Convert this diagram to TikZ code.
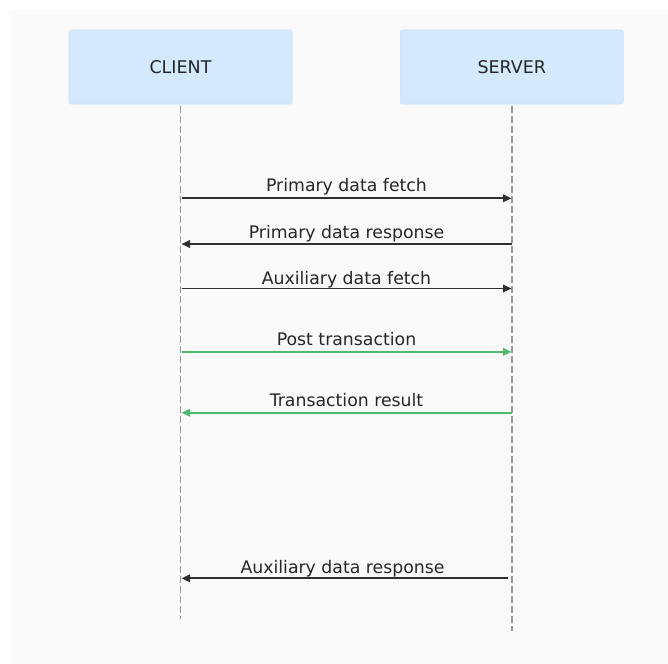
\documentclass[tikz,border=0pt]{standalone}
\usepackage{fontspec}
\setmainfont{DejaVu Sans}
\usetikzlibrary{arrows.meta}
\definecolor{bgcol}{HTML}{FAFAFA}
\definecolor{boxcol}{HTML}{D3E9FD}
\definecolor{boxline}{HTML}{CBE2F7}
\definecolor{lifecol}{HTML}{999999}
\definecolor{msgcol}{HTML}{2F2F2F}
\definecolor{okcol}{HTML}{4FBA6F}
\definecolor{txtcol}{HTML}{262626}
\tikzset{
  actor/.style={draw=boxline, line width=0.6pt, fill=boxcol, rounded corners=2pt,
    minimum width=223pt, minimum height=74pt, inner sep=0pt, text=txtcol,
    font=\fontsize{17.5}{20}\selectfont},
  lifeline/.style={draw=lifecol, line width=1.5pt, dash pattern=on 7pt off 3pt},
  msg/.style={draw=msgcol, line width=1.8pt, -{Triangle[length=8.5pt,width=7.5pt]}},
  okmsg/.style={msg, draw=okcol, -{Triangle[length=8.5pt,width=7.5pt,fill=okcol]}},
  lbl/.style={anchor=base, inner sep=0pt, text=txtcol, font=\fontsize{17.3}{20}\selectfont}
}
\begin{document}
\begin{tikzpicture}[x=1pt,y=-1pt]
\useasboundingbox (0,0) rectangle (668,663);
\fill[white] (0,0) rectangle (668,663);
\fill[bgcol] (11,10) rectangle (669,664);
% actors
\node[actor] (client) at (180.5,67) {CLIENT};
\node[actor] (server) at (511.8,67) {SERVER};
% lifelines
\coordinate (cend) at (180.7,619);
\coordinate (send) at (512,631);
\draw[lifeline] (client.south) ++(0.2,1.5) coordinate (ctop) -- (cend);
\draw[lifeline] (server.south) ++(0.2,1.5) coordinate (stop) -- (send);
% message anchor points
\foreach \i/\y in {1/198.3,2/244,3/288.5,4/351.8,5/412.7,6/578.3}{
  \coordinate (c\i) at (181.5,\y);
  \coordinate (s\i) at (511.5,\y);
}
\draw[msg] (c1) -- (s1) node[lbl, midway, yshift=6.5pt] (m1) {Primary data fetch};
\draw[msg] (s2) -- (c2) node[lbl, midway, yshift=6pt] (m2) {Primary data response};
\draw[msg] (c3) -- (s3) node[lbl, midway, yshift=4pt] (m3) {Auxiliary data fetch};
\draw[okmsg] (c4) -- (s4) node[lbl, midway, yshift=6.7pt] (m4) {Post transaction};
\draw[okmsg] (s5) -- (c5) node[lbl, midway, yshift=6.7pt] (m5) {Transaction result};
\draw[msg] ([xshift=-4pt]s6) -- (c6) node[lbl, pos=0.5, xshift=-2pt, yshift=5pt] (m6) {Auxiliary data response};
\end{tikzpicture}
\end{document}
